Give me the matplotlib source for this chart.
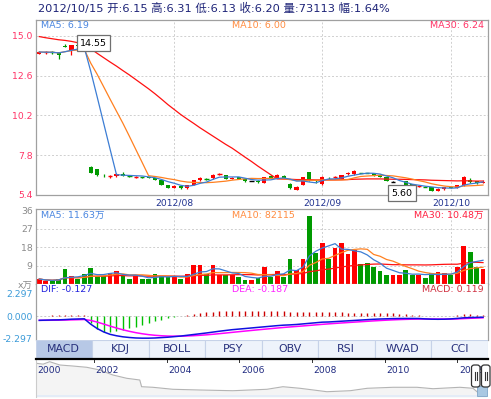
import matplotlib
matplotlib.use("Agg")
import matplotlib.pyplot as plt
from matplotlib.patches import Rectangle, FancyBboxPatch
import numpy as np
import pandas as pd

plt.rcParams['font.family'] = ['DejaVu Sans', 'Noto Sans CJK SC']

# ---------------- data ----------------
last_date = "2012/10/15"
month_labels = ["2012/08", "2012/09", "2012/10"]
month_pos = [21, 44, 64]

opens = [13.92, 13.98, 14.02, 14.00, 14.38, 14.10, 14.42, 14.45, 7.10, 6.94,
         6.62, 6.52, 6.52, 6.64, 6.55, 6.47, 6.48, 6.47, 6.41, 6.30,
         6.02, 5.83, 5.92, 5.80, 6.03, 6.30, 6.37, 6.40, 6.64, 6.60,
         6.37, 6.47, 6.35, 6.25, 6.26, 6.14, 6.56, 6.43, 6.55, 6.08,
         5.72, 6.02, 6.78, 6.25, 6.05, 6.44, 6.46, 6.38, 6.66, 6.64,
         6.74, 6.74, 6.72, 6.62, 6.46, 6.20, 5.82, 6.25, 6.06, 5.92,
         5.92, 5.88, 5.64, 5.74, 5.88, 5.84, 5.98, 6.30, 6.22, 6.15]
highs = [14.06, 14.10, 14.08, 14.05, 14.52, 14.46, 14.48, 14.55, 7.12, 6.96,
         6.68, 6.60, 6.72, 6.76, 6.58, 6.52, 6.50, 6.49, 6.43, 6.31,
         6.03, 5.98, 5.94, 6.02, 6.32, 6.48, 6.42, 6.66, 6.70, 6.62,
         6.47, 6.50, 6.37, 6.27, 6.30, 6.50, 6.58, 6.66, 6.58, 6.10,
         5.92, 6.50, 6.80, 6.28, 6.55, 6.47, 6.56, 6.62, 6.80, 6.90,
         6.75, 6.75, 6.74, 6.64, 6.48, 6.22, 5.92, 6.27, 6.08, 5.98,
         5.93, 5.90, 5.80, 5.88, 5.90, 6.02, 6.52, 6.42, 6.26, 6.31]
lows = [13.90, 13.90, 13.92, 13.60, 14.30, 13.84, 14.30, 14.35, 6.72, 6.55,
        6.50, 6.40, 6.48, 6.55, 6.50, 6.44, 6.43, 6.40, 6.28, 5.98,
        5.82, 5.80, 5.79, 5.76, 6.00, 6.27, 6.32, 6.38, 6.58, 6.35,
        6.35, 6.34, 6.20, 6.22, 6.14, 6.10, 6.40, 6.41, 6.42, 5.78,
        5.70, 5.98, 6.26, 6.14, 6.02, 6.38, 6.40, 6.35, 6.62, 6.62,
        6.71, 6.71, 6.54, 6.46, 6.22, 6.18, 5.60, 6.00, 5.90, 5.88,
        5.89, 5.64, 5.62, 5.72, 5.80, 5.82, 5.95, 6.12, 6.08, 6.13]
closes = [14.02, 14.00, 14.00, 13.85, 14.32, 14.44, 14.38, 14.40, 6.75, 6.60,
          6.58, 6.54, 6.68, 6.57, 6.53, 6.49, 6.46, 6.42, 6.30, 6.01,
          5.84, 5.96, 5.81, 6.00, 6.30, 6.44, 6.35, 6.62, 6.66, 6.37,
          6.44, 6.36, 6.24, 6.25, 6.18, 6.48, 6.42, 6.62, 6.45, 5.80,
          5.90, 6.46, 6.30, 6.22, 6.46, 6.40, 6.48, 6.60, 6.70, 6.84,
          6.72, 6.72, 6.56, 6.48, 6.24, 6.20, 5.88, 6.02, 5.92, 5.94,
          5.90, 5.66, 5.78, 5.86, 5.85, 6.00, 6.48, 6.17, 6.10, 6.20]
# volume in units of 10k shares (万)
volumes = [2.45, 1.5, 1.5, 2.45, 7.35, 3.8, 2.45, 4.7, 7.84, 4.1,
           4.0, 5.2, 6.4, 3.7, 2.45, 4.1, 2.45, 2.45, 4.74, 4.1,
           3.6, 3.6, 2.5, 4.7, 9.3, 9.3, 4.7, 9.3, 4.4, 4.4,
           4.4, 3.3, 2.0, 2.0, 2.8, 8.5, 3.6, 6.4, 3.6, 12.25,
           6.9, 12.25, 33.5, 15.4, 20.0, 12.25, 17.7, 20.0, 14.9, 16.5,
           9.6, 10.2, 8.2, 6.5, 4.2, 4.2, 4.5, 6.9, 4.2, 4.5,
           2.9, 5.3, 6.1, 5.3, 4.3637, 8.5, 18.4, 15.8, 8.14, 7.3113]
ma30_price = [14.95, 14.88, 14.82, 14.76, 14.72, 14.66, 14.58, 14.50, 14.22, 13.94,
              13.68, 13.42, 13.17, 12.90, 12.64, 12.36, 12.08, 11.80, 11.50, 11.18,
              10.85, 10.55, 10.25, 9.98, 9.72, 9.45, 9.20, 8.95, 8.70, 8.45,
              8.22, 7.95, 7.68, 7.42, 7.14, 6.88, 6.62, 6.37, 6.36, 6.35,
              6.33, 6.33, 6.32, 6.31, 6.31, 6.31, 6.31, 6.32, 6.33, 6.35,
              6.36, 6.37, 6.37, 6.37, 6.36, 6.35, 6.35, 6.34, 6.33, 6.32,
              6.31, 6.29, 6.28, 6.27, 6.26, 6.25, 6.26, 6.25, 6.24, 6.24]
dif = [-0.45, -0.43, -0.41, -0.40, -0.37, -0.33, -0.31, -0.29, -0.85, -1.30,
       -1.65, -1.90, -2.05, -2.16, -2.23, -2.28, -2.30, -2.30, -2.28, -2.24,
       -2.20, -2.14, -2.08, -2.00, -1.92, -1.84, -1.76, -1.67, -1.58, -1.50,
       -1.42, -1.36, -1.30, -1.24, -1.18, -1.12, -1.06, -1.00, -0.95, -0.92,
       -0.88, -0.82, -0.76, -0.70, -0.64, -0.62, -0.58, -0.54, -0.50, -0.46,
       -0.42, -0.38, -0.34, -0.31, -0.29, -0.27, -0.26, -0.255, -0.255, -0.26,
       -0.30, -0.33, -0.34, -0.33, -0.30, -0.25, -0.19, -0.16, -0.145, -0.1274]
dea = [-0.45, -0.446, -0.439, -0.431, -0.419, -0.401, -0.383, -0.364, -0.461, -0.629,
       -0.833, -1.046, -1.247, -1.430, -1.590, -1.728, -1.842, -1.934, -2.003, -2.050,
       -2.080, -2.092, -2.090, -2.072, -2.042, -2.001, -1.953, -1.896, -1.833, -1.766,
       -1.697, -1.630, -1.564, -1.499, -1.435, -1.372, -1.310, -1.248, -1.188, -1.135,
       -1.084, -1.031, -0.977, -0.921, -0.865, -0.816, -0.769, -0.723, -0.678, -0.635,
       -0.592, -0.549, -0.507, -0.468, -0.432, -0.400, -0.372, -0.349, -0.330, -0.316,
       -0.313, -0.316, -0.321, -0.323, -0.318, -0.304, -0.270, -0.240, -0.210, -0.1869]

nav_time = [2000.41, 2000.60, 2000.78, 2001.06, 2001.41, 2001.80, 2002.16, 2002.52, 2002.90, 2003.26,
            2003.31, 2003.62, 2004.17, 2004.91, 2005.82, 2006.76, 2007.20, 2007.67, 2008.41, 2009.05,
            2009.52, 2010.23, 2010.89, 2011.33, 2012.07, 2012.43, 2012.55, 2012.79]
nav_value = [47.2, 46.0, 49.4, 44.8, 43.4, 41.6, 37.8, 30.8, 26.2, 23.8,
             14.4, 13.6, 10.8, 9.8, 8.8, 10.8, 14.4, 12.2, 7.4, 8.8,
             12.2, 13.6, 13.6, 11.6, 13.6, 12.2, 7.0, 7.0]
nav_years = [2000, 2002, 2004, 2006, 2008, 2010, 2012]
tabs = ["MACD", "KDJ", "BOLL", "PSY", "OBV", "RSI", "WVAD", "CCI"]

# ---------------- derived ----------------
o = np.array(opens); h = np.array(highs); l = np.array(lows); c = np.array(closes)
v = np.array(volumes)
x = np.arange(len(c))
ma5 = pd.Series(c).rolling(5, min_periods=1).mean().values
ma10 = pd.Series(c).rolling(10, min_periods=1).mean().values
vma5 = pd.Series(v).rolling(5, min_periods=1).mean().values
vma10 = pd.Series(v).rolling(10, min_periods=1).mean().values
vma30 = pd.Series(v).rolling(30, min_periods=1).mean().values
dif_a = np.array(dif); dea_a = np.array(dea)
hist = 2 * (dif_a - dea_a)

RED = '#FF0000'; GREEN = '#009A00'; BLACK = '#000000'
cols = [RED if cc > oo else (GREEN if cc < oo else BLACK) for oo, cc in zip(o, c)]
vcols = [RED if cc >= oo else GREEN for oo, cc in zip(o, c)]
BLUE_MA = '#3C7DD4'; ORANGE_MA = '#FF8020'; RED_MA = '#FF1010'
SPINE = '#A0A0A0'; GRID = '#CFCFCF'

W, H = 491, 399
fig = plt.figure(figsize=(W / 100, H / 100), dpi=100)
fig.patch.set_facecolor('white')

def fx(px): return px / W
def fy(py): return 1 - py / H

def add_ax(x0, y0, x1, y1):
    return fig.add_axes([fx(x0), fy(y1), fx(x1) - fx(x0), fy(y0) - fy(y1)])

L, R = 35.5, 487.5
XL = (-0.59, 69.7)
ax_p = add_ax(L, 20, R, 195)
ax_v = add_ax(L, 209.3, R, 284)
ax_m = add_ax(L, 284, R, 340)
ax_t = add_ax(L, 340, R, 358)
ax_n = add_ax(L, 359, R, 397)

def style(ax):
    for s in ax.spines.values():
        s.set_color(SPINE); s.set_linewidth(0.9)
    ax.set_xticks([])
    ax.set_xlim(*XL)

# ---------- price panel ----------
style(ax_p)
ax_p.set_ylim(5.4, 15.95)
pt = [5.4, 7.8, 10.2, 12.6, 15.0]
ax_p.set_yticks(pt)
ax_p.set_yticklabels([f"{t:.1f}" for t in pt])
ax_p.tick_params(axis='y', length=0, pad=2, labelsize=6.7, labelcolor='#FF3366')
for t in pt[1:]:
    ax_p.axhline(t, color=GRID, lw=0.7, ls=(0, (2, 2)), zorder=0)
for m in month_pos:
    ax_p.axvline(m, color=GRID, lw=0.7, ls=(0, (2, 2)), zorder=0)
ax_p.vlines(x, l, h, colors=cols, lw=0.9, zorder=2)
body = np.abs(c - o)
thick = body >= 0.025
ax_p.bar(x[thick], body[thick], bottom=np.minimum(o, c)[thick], width=0.64,
         color=np.array(cols)[thick], lw=0, zorder=2)
for i in x[~thick]:
    ax_p.hlines(c[i], i - 0.34, i + 0.34, colors=cols[i], lw=1.0, zorder=2)
ax_p.plot(x, ma30_price, color=RED_MA, lw=0.9, zorder=3)
ax_p.plot(x, ma10, color=ORANGE_MA, lw=0.9, zorder=3)
ax_p.plot(x, ma5, color=BLUE_MA, lw=0.9, zorder=3)
imax = int(np.argmax(h)); imin = int(np.argmin(l))
bb = dict(boxstyle='square,pad=0.35', fc='white', ec='#707070', lw=0.9)
ax_p.annotate(f"{h[imax]:.2f}", (imax, h[imax]), xytext=(-3.1, 0), textcoords='offset points',
              ha='left', va='center', fontsize=6.8, color='black', bbox=bb, zorder=5,
              annotation_clip=False)
ax_p.annotate(f"{l[imin]:.2f}", (imin, l[imin]), xytext=(-5.5, -1.0), textcoords='offset points',
              ha='left', va='center', fontsize=6.8, color='black', bbox=bb, zorder=5,
              annotation_clip=False)
for m, lab in zip(month_pos, month_labels):
    ax_p.annotate(lab, (m, 0), xycoords=('data', 'axes fraction'), xytext=(0, -5.9),
                  textcoords='offset points', ha='center', va='center', fontsize=6.6,
                  color='#1F3190', annotation_clip=False)
fig.text(fx(41), fy(26), f"MA5: {ma5[-1]:.2f}", fontsize=6.8, color='#4A86E0', va='center')
fig.text(fx(232), fy(26), f"MA10: {ma10[-1]:.2f}", fontsize=6.8, color='#FF8C40', va='center')
fig.text(fx(484), fy(26), f"MA30: {ma30_price[-1]:.2f}", fontsize=6.8, color='#FF3366',
         va='center', ha='right')

# ---------- volume panel ----------
style(ax_v)
ax_v.set_ylim(0, 36.6)
vt = [0, 9, 18, 27, 36]
ax_v.set_yticks(vt)
ax_v.set_yticklabels(['x万', '9', '18', '27', '36'])
ax_v.tick_params(axis='y', length=0, pad=2, labelsize=6.7, labelcolor='#8A8A8A')
for t in vt[1:4]:
    ax_v.axhline(t, color=GRID, lw=0.7, ls=(0, (2, 2)), zorder=0)
for m in month_pos:
    ax_v.axvline(m, color=GRID, lw=0.7, ls=(0, (2, 2)), zorder=0)
ax_v.bar(x, v, width=0.74, color=vcols, lw=0, zorder=2)
ax_v.plot(x, vma30, color=RED_MA, lw=0.9, zorder=3)
ax_v.plot(x, vma10, color=ORANGE_MA, lw=0.9, zorder=3)
ax_v.plot(x, vma5, color=BLUE_MA, lw=0.9, zorder=3)

def vfmt(val):
    return f"{val:.2f}万" if val >= 10 else f"{int(round(val * 10000))}"
fig.text(fx(41), fy(215), f"MA5: {vfmt(vma5[-1])}", fontsize=6.8, color='#4A86E0', va='center')
fig.text(fx(232), fy(215), f"MA10: {vfmt(vma10[-1])}", fontsize=6.8, color='#FF8C40', va='center')
fig.text(fx(484), fy(215), f"MA30: {vfmt(vma30[-1])}", fontsize=6.8, color='#FF2040',
         va='center', ha='right')

# ---------- MACD panel ----------
style(ax_m)
ax_m.spines['top'].set_visible(False)
ax_m.spines['bottom'].set_visible(False)
ax_m.set_ylim(-2.49, 3.32)
mt = [-2.297, 0.0, 2.297]
ax_m.set_yticks(mt)
ax_m.set_yticklabels([f"{t:.3f}" for t in mt])
ax_m.tick_params(axis='y', length=0, pad=2, labelsize=6.7, labelcolor='#3A9AD8')
ax_m.axhline(0, color='#C8C8C8', lw=0.7, ls=(0, (2, 2)), zorder=0)
ax_m.vlines(x, 0, hist, colors=['#CC0000' if hh >= 0 else '#00C000' for hh in hist], lw=1.0, zorder=2)
ax_m.plot(x, dea_a, color='#FF00FF', lw=1.1, zorder=3)
ax_m.plot(x, dif_a, color='#1010E0', lw=1.1, zorder=3)
fig.text(fx(41), fy(290), f"DIF: {dif_a[-1]:.3f}", fontsize=6.8, color='#2222DD', va='center')
fig.text(fx(232), fy(290), f"DEA: {dea_a[-1]:.3f}", fontsize=6.8, color='#FF22FF', va='center')
fig.text(fx(484), fy(290), f"MACD: {hist[-1]:.3f}", fontsize=6.8, color='#D03040',
         va='center', ha='right')

# ---------- tabs ----------
ax_t.set_xlim(0, len(tabs)); ax_t.set_ylim(0, 1)
ax_t.axis('off')
for k, name in enumerate(tabs):
    ax_t.add_patch(Rectangle((k, 0), 1, 1, fc='#B7C8E6' if k == 0 else '#EEF3FB',
                             ec='#C6D2E8', lw=0.8))
    ax_t.text(k + 0.5, 0.48, name, ha='center', va='center', fontsize=7.9, color='#27307C')

# ---------- navigator ----------
ax_n.set_xlim(2000.39, 2012.83)
ax_n.set_ylim(0, 53.2)
ax_n.set_xticks([]); ax_n.set_yticks([])
for s in ['right', 'bottom']:
    ax_n.spines[s].set_visible(False)
ax_n.spines['left'].set_color('#CCCCCC')
ax_n.spines['top'].set_color('#000000'); ax_n.spines['top'].set_linewidth(1.6)
ax_n.fill_between(nav_time, nav_value, 0, color='#F4F4F4', lw=0)
ax_n.plot(nav_time, nav_value, color='#B4B4B4', lw=0.8)
ax_n.axhspan(0, 2.6, color='#E4ECF7', lw=0)
x0n = ax_n.get_xlim()[0]
for yr in nav_years:
    if yr > x0n:
        ax_n.plot([yr, yr], [53.2, 48.5], color='#333333', lw=0.7)
    ax_n.text(max(yr, x0n) + 0.04, 0.71, str(yr), transform=ax_n.get_xaxis_transform(),
              ha='left', va='center', fontsize=6.6, color='#1F2A80')

# navigator handles (decoration)
fig.add_artist(Rectangle((fx(476.5), fy(396)), fx(487) - fx(476.5), fy(386) - fy(396),
                         fc='#A9C8E2', ec='#7FA6C8', lw=0.6))
for hx in (471.5, 481.5):
    fig.add_artist(FancyBboxPatch((fx(hx), fy(387)), fx(8.5), fy(365) - fy(387),
                                  boxstyle='round,pad=0,rounding_size=0.006',
                                  fc='white', ec='#333333', lw=0.9))
    for dx in (3.0, 5.5):
        fig.add_artist(plt.Line2D([fx(hx + dx), fx(hx + dx)], [fy(372), fy(380)],
                                  color='#333333', lw=0.8))

# ---------- title ----------
pct = (c[-1] / c[-2] - 1) * 100
title = (f"{last_date} 开:{o[-1]:.2f} 高:{h[-1]:.2f} 低:{l[-1]:.2f} "
         f"收:{c[-1]:.2f} 量:{int(round(v[-1] * 10000))} 幅:{pct:.2f}%")
fig.text(fx(38), fy(8), title, fontsize=8.2, color='#1E2478', va='center')

fig.savefig('out.png', dpi=100)
